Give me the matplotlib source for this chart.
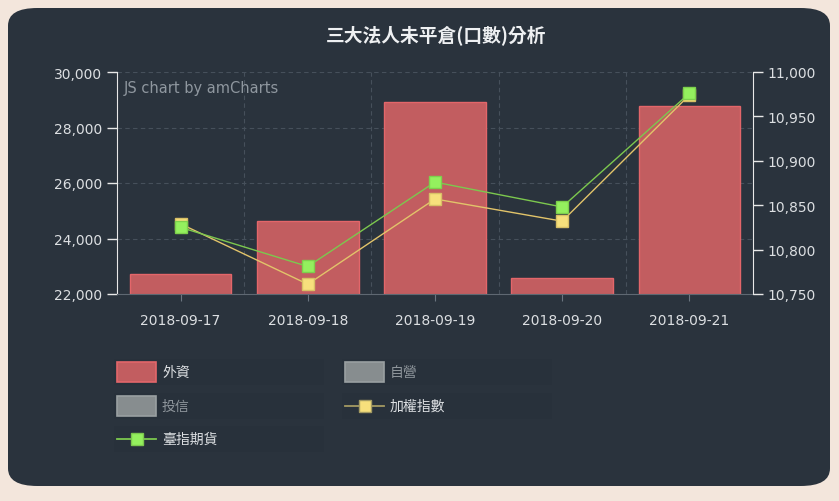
import matplotlib.pyplot as plt
from matplotlib.patches import FancyBboxPatch, Rectangle
from matplotlib.lines import Line2D

plt.rcParams['font.family'] = ['DejaVu Sans', 'Noto Sans CJK TC']
CJK = ['Noto Sans CJK TC', 'DejaVu Sans']

# data
dates = ['2018-09-17', '2018-09-18', '2018-09-19', '2018-09-20', '2018-09-21']
foreign = [22710, 24640, 28910, 22570, 28790]          # 外資
taiex = [10829, 10761, 10857, 10832, 10974]            # 加權指數
futures = [10825, 10781, 10876, 10848, 10976]          # 臺指期貨

BG = '#2a333d'
TXT = '#dcdfe2'
GRID = '#46505b'

fig = plt.figure(figsize=(8.39, 5.02), dpi=100)
fig.patch.set_facecolor('#f3e6dc')
panel = FancyBboxPatch((8 / 839, 15 / 502), 822 / 839, 478 / 502,
                       boxstyle='round,pad=0,rounding_size=0.035',
                       transform=fig.transFigure, facecolor=BG,
                       edgecolor='none', zorder=0)
fig.add_artist(panel)

ax = fig.add_axes([117 / 839, 1 - 295 / 502, 636 / 839, 222 / 502])
ax.set_facecolor(BG)
x = list(range(len(dates)))
ax.bar(x, foreign, width=0.8, color='#c25d60', edgecolor='#e3666a',
       linewidth=1, zorder=2)
ax.set_xlim(-0.5, 4.5)
ax.set_ylim(22000, 30000)
ax.set_yticks(range(22000, 30001, 2000))
ax.yaxis.set_major_formatter(plt.FuncFormatter(lambda v, p: f'{v:,.0f}'))
ax.set_xticks(x)
ax.set_xticklabels(dates)
ax.set_xticks([i + 0.5 for i in x[:-1]], minor=True)
ax.grid(axis='y', color=GRID, linestyle=(0, (4, 3)), linewidth=0.8, zorder=0)
ax.grid(axis='x', which='minor', color=GRID, linestyle=(0, (4, 3)),
        linewidth=0.8, zorder=0)
ax.tick_params(axis='x', which='minor', length=0)
ax.tick_params(axis='x', colors='#6b7580', labelcolor=TXT, labelsize=10,
               length=5, pad=9)
ax.tick_params(axis='y', colors='#e8e8e8', labelcolor=TXT, labelsize=10,
               length=7, width=1)
for s in ['top', 'right']:
    ax.spines[s].set_visible(False)
ax.spines['left'].set_color('#e8e8e8')
ax.spines['bottom'].set_color('#5f6872')
ax.text(0.01, 0.93, 'JS chart by amCharts', transform=ax.transAxes,
        color='#8f979f', fontsize=10.5, va='center', ha='left')

ax2 = ax.twinx()
ax2.set_ylim(10750, 11000)
ax2.set_yticks(range(10750, 11001, 50))
ax2.yaxis.set_major_formatter(plt.FuncFormatter(lambda v, p: f'{v:,.0f}'))
ax2.plot(x, taiex, color='#e2c46a', linewidth=1, marker='s', markersize=8,
         markerfacecolor='#f7e07c', markeredgecolor='#d8c066', zorder=3)
ax2.plot(x, futures, color='#7cc84e', linewidth=1, marker='s', markersize=8,
         markerfacecolor='#94f05e', markeredgecolor='#7dd04c', zorder=4)
ax2.tick_params(axis='y', colors='#e8e8e8', labelcolor=TXT, labelsize=10,
                length=7, width=1)
for s in ['top', 'left', 'bottom']:
    ax2.spines[s].set_visible(False)
ax2.spines['right'].set_color('#e8e8e8')

fig.text(436 / 839, 1 - 36 / 502, '三大法人未平倉(口數)分析', family=CJK,
         color='#eef0f2', fontsize=13.5, fontweight='bold', ha='center',
         va='center')

# legend (hand-placed, amCharts style)
W, H = 839, 502
def fx(px):
    return px / W

def fy(py):
    return 1 - py / H

items = [
    ('外資', 'box', '#c25d60', '#e3666a', TXT, 117, 373),
    ('自營', 'box', '#878d8f', '#9aa0a2', '#8e959b', 345, 373),
    ('投信', 'box', '#878d8f', '#9aa0a2', '#8e959b', 117, 407),
    ('加權指數', 'line', '#f7e07c', '#a39a62', TXT, 345, 407),
    ('臺指期貨', 'line', '#94f05e', '#7cc84e', TXT, 117, 440),
]
for label, kind, fc, ec, tc, px, py in items:
    fig.add_artist(Rectangle((fx(px - 3), fy(py + 13)), fx(210), 26 / H,
                             transform=fig.transFigure, facecolor='#28313b',
                             edgecolor='none', zorder=1))
    if kind == 'box':
        fig.add_artist(Rectangle((fx(px), fy(py + 10)), fx(39), 20 / H,
                                 transform=fig.transFigure, facecolor=fc,
                                 edgecolor=ec, linewidth=1.2, zorder=2))
    else:
        fig.add_artist(Line2D([fx(px), fx(px + 39)], [fy(py), fy(py)],
                              transform=fig.transFigure, color=ec,
                              linewidth=1.3, zorder=2))
        fig.add_artist(Line2D([fx(px + 19.5)], [fy(py)], marker='s',
                              markersize=8, markerfacecolor=fc,
                              markeredgecolor=ec, linestyle='none',
                              transform=fig.transFigure, zorder=3))
    fig.text(fx(px + 45), fy(py), label, family=CJK, color=tc, fontsize=10,
             ha='left', va='center', zorder=3)

fig.savefig('out.png', dpi=100, facecolor=fig.get_facecolor())
